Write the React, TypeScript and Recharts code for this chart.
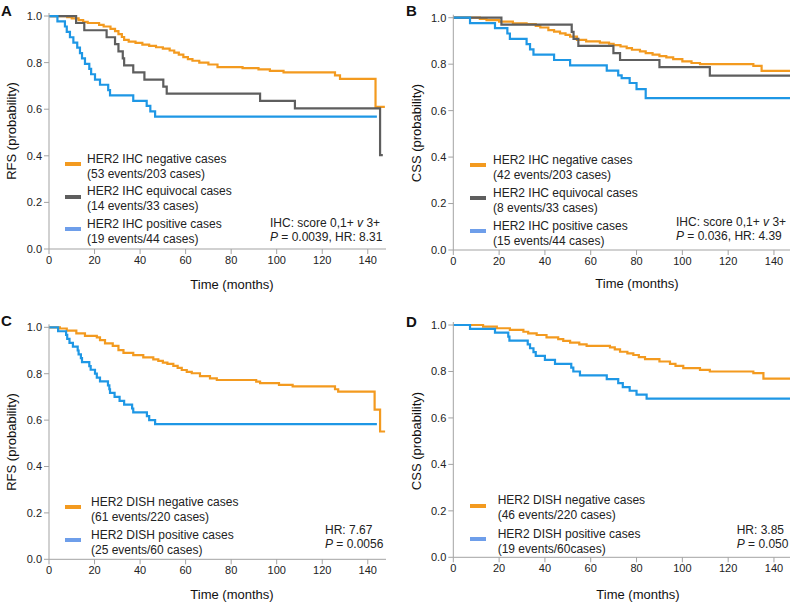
import { LineChart, Line, XAxis, YAxis } from 'recharts';

const xTicks = [0, 20, 40, 60, 80, 100, 120, 140];
const yTicks = [0, 0.2, 0.4, 0.6, 0.8, 1.0];

// Kaplan-Meier steps: [months, probability]
const rfsIhcNeg = [[0, 1], [8, 0.995], [10, 0.99], [13, 0.982], [15, 0.975], [17, 0.97], [22, 0.962], [24, 0.955], [27, 0.945], [29, 0.935], [30.5, 0.922], [32, 0.91], [33, 0.898], [35, 0.89], [38, 0.885], [41, 0.877], [44, 0.872], [47, 0.866], [50, 0.86], [53, 0.852], [55, 0.843], [57, 0.834], [59, 0.824], [61, 0.815], [63, 0.808], [66, 0.8], [70, 0.792], [74, 0.781], [85, 0.776], [92, 0.771], [97, 0.765], [103, 0.758], [125.6, 0.745], [127.8, 0.73], [143.4, 0.61], [147.5, 0.61]];
const rfsIhcEqu = [[0, 1], [11.9, 0.97], [15.5, 0.939], [25.3, 0.909], [29, 0.879], [30.5, 0.848], [32.4, 0.818], [33, 0.788], [37, 0.758], [41.9, 0.727], [50.2, 0.697], [51.7, 0.667], [92.7, 0.636], [108, 0.604], [145.4, 0.403], [146.6, 0.403]];
const rfsIhcPos = [[0, 1], [3.7, 0.977], [7, 0.955], [7.8, 0.932], [9.2, 0.909], [10.7, 0.886], [12.4, 0.864], [13.6, 0.841], [14.5, 0.818], [15.8, 0.795], [17.7, 0.773], [18.5, 0.75], [20.2, 0.727], [22.4, 0.705], [26, 0.682], [26.8, 0.659], [37, 0.636], [42.9, 0.614], [44.5, 0.591], [46.6, 0.568], [144, 0.568]];

const cssIhcNeg = [[0, 1], [11.6, 0.995], [14.5, 0.99], [20, 0.983], [26, 0.976], [32, 0.972], [36, 0.965], [38, 0.958], [41.5, 0.947], [44, 0.94], [46.6, 0.933], [49, 0.926], [51, 0.919], [54, 0.905], [58, 0.898], [64, 0.893], [68, 0.888], [70, 0.882], [73, 0.876], [75.7, 0.869], [78, 0.862], [81.5, 0.855], [84, 0.848], [87, 0.841], [90, 0.835], [93, 0.829], [96, 0.822], [100, 0.812], [104, 0.805], [107.7, 0.8], [131, 0.793], [134.6, 0.771], [147, 0.771]];
const cssIhcEqu = [[0, 1], [21, 0.97], [51.7, 0.939], [52.5, 0.909], [54.6, 0.879], [69.9, 0.848], [72.8, 0.818], [90, 0.787], [112, 0.751], [147, 0.751]];
const cssIhcPos = [[0, 1], [7.3, 0.977], [18.2, 0.955], [23.6, 0.932], [24.7, 0.909], [32, 0.886], [33.5, 0.864], [35, 0.841], [44, 0.818], [51, 0.795], [67, 0.772], [72, 0.752], [73.5, 0.74], [77, 0.719], [80, 0.693], [84, 0.654], [147, 0.654]];

const rfsDishNeg = [[0, 1], [4.8, 0.995], [7.8, 0.986], [12, 0.974], [15.8, 0.963], [21, 0.957], [22.4, 0.945], [24.6, 0.931], [28, 0.92], [30.5, 0.902], [32.7, 0.89], [37, 0.88], [41.4, 0.87], [45.8, 0.862], [48, 0.855], [50, 0.848], [52, 0.842], [54.6, 0.834], [56.5, 0.825], [58.3, 0.816], [60.5, 0.808], [62.7, 0.802], [66.3, 0.79], [70.7, 0.78], [73.7, 0.773], [91, 0.766], [92.7, 0.759], [101, 0.752], [107, 0.745], [125.6, 0.733], [127, 0.723], [143, 0.645], [145.4, 0.551], [147.6, 0.551]];
const rfsDishPos = [[0, 1], [4, 0.983], [7.5, 0.967], [8, 0.95], [9, 0.933], [10.5, 0.917], [12.6, 0.9], [13, 0.883], [14, 0.867], [14.5, 0.85], [17.7, 0.833], [18.3, 0.817], [20.2, 0.8], [21, 0.783], [22.4, 0.767], [25.9, 0.75], [26.5, 0.733], [26.8, 0.717], [28.8, 0.7], [31, 0.683], [33, 0.667], [36.5, 0.65], [37, 0.633], [43, 0.617], [44, 0.6], [46.6, 0.583], [144, 0.583]];

const cssDishNeg = [[0, 1], [13, 0.993], [19, 0.986], [24.7, 0.979], [30.6, 0.971], [32.7, 0.964], [36.4, 0.957], [40.7, 0.947], [45.8, 0.939], [48, 0.932], [51, 0.924], [55, 0.917], [58.2, 0.91], [68.4, 0.904], [70.5, 0.895], [72.8, 0.885], [76, 0.878], [78.6, 0.871], [81, 0.862], [83.7, 0.853], [90, 0.843], [94.6, 0.833], [97, 0.824], [100.4, 0.814], [107.7, 0.807], [112, 0.8], [131, 0.793], [135.4, 0.769], [147, 0.769]];
const cssDishPos = [[0, 1], [7.3, 0.983], [18.2, 0.967], [24, 0.95], [24.5, 0.933], [32.5, 0.917], [33.5, 0.9], [35, 0.883], [36, 0.867], [40, 0.85], [44.4, 0.833], [51.5, 0.817], [52.4, 0.8], [55.3, 0.783], [67, 0.767], [72, 0.75], [74, 0.733], [77, 0.717], [80, 0.7], [84.4, 0.683], [147, 0.683]];

const ORANGE = '#F39A1F';
const GRAY = '#5E5E5E';
const BLUE = '#1E97E5';
const BLUE_KEY = '#6E9EEA';
const AXIS = '#A3A3A3';
const FONT = 'Arial, "Liberation Sans", Helvetica, sans-serif';

type Series = { name: string; sub: string; pts: number[][]; color: string; key: string };

const toRows = (pts: number[][]) => pts.map(([t, s]) => ({ t, s }));

function Panel(props: any) {
  const { left, top, w, h, margin, xMax, letter, letterPos, yLabel, yLabelPos, xLabelPos, series, legend, note, drawOrder } = props;
  const ordered: Series[] = drawOrder.map((i: number) => series[i]);
  return (
    <div style={{ position: 'absolute', left, top, width: w, height: h }}>
      <LineChart width={w} height={h} margin={margin}>
        <XAxis
          dataKey="t"
          type="number"
          domain={[0, xMax]}
          ticks={xTicks}
          interval={0}
          allowDataOverflow
          stroke={AXIS}
          tickSize={5}
          tickMargin={2}
          tick={{ fontSize: 11, fill: '#222' }}
        />
        <YAxis
          type="number"
          domain={[0, 1.013]}
          ticks={yTicks}
          interval={0}
          width={40}
          stroke={AXIS}
          tickSize={5}
          tickMargin={2}
          tick={{ fontSize: 11, fill: '#222' }}
          tickFormatter={(v: number) => v.toFixed(1)}
        />
        {ordered.map((s) => (
          <Line
            key={s.name}
            data={toRows(s.pts)}
            dataKey="s"
            type="stepAfter"
            stroke={s.color}
            strokeWidth={2.2}
            dot={false}
            activeDot={false}
            isAnimationActive={false}
          />
        ))}
      </LineChart>

      <div style={{ position: 'absolute', left: letterPos[0], top: letterPos[1], fontSize: 15, fontWeight: 'bold', lineHeight: '15px' }}>
        {letter}
      </div>
      <div
        style={{
          position: 'absolute',
          left: yLabelPos[0],
          top: yLabelPos[1],
          fontSize: 13,
          whiteSpace: 'nowrap',
          transform: 'translate(-50%, -50%) rotate(-90deg)',
        }}
      >
        {yLabel}
      </div>
      <div style={{ position: 'absolute', left: xLabelPos[0], top: xLabelPos[1], fontSize: 13, whiteSpace: 'nowrap', transform: 'translate(-50%, -50%)' }}>
        Time (months)
      </div>

      {series.map((s: Series, i: number) => (
        <div key={s.name}>
          <div
            style={{
              position: 'absolute',
              left: legend.swatchX,
              top: legend.y + i * legend.step + 3,
              width: 16,
              height: 4,
              background: s.key,
            }}
          />
          <div style={{ position: 'absolute', left: legend.textX, top: legend.y + i * legend.step - 7.5, fontSize: 12, lineHeight: '15px', whiteSpace: 'nowrap', color: '#222' }}>
            {s.name}
            <br />
            {s.sub}
          </div>
        </div>
      ))}

      <div style={{ position: 'absolute', left: note.x, top: note.y - 7.5, fontSize: 12, lineHeight: '14.5px', whiteSpace: 'nowrap', color: '#222' }}>
        {note.lines[0]}
        <br />
        {note.lines[1]}
      </div>
    </div>
  );
}

const ihcRfs: Series[] = [
  { name: 'HER2 IHC negative cases', sub: '(53 events/203 cases)', pts: rfsIhcNeg, color: ORANGE, key: ORANGE },
  { name: 'HER2 IHC equivocal cases', sub: '(14 events/33 cases)', pts: rfsIhcEqu, color: GRAY, key: GRAY },
  { name: 'HER2 IHC positive cases', sub: '(19 events/44 cases)', pts: rfsIhcPos, color: BLUE, key: BLUE_KEY },
];
const ihcCss: Series[] = [
  { name: 'HER2 IHC negative cases', sub: '(42 events/203 cases)', pts: cssIhcNeg, color: ORANGE, key: ORANGE },
  { name: 'HER2 IHC equivocal cases', sub: '(8 events/33 cases)', pts: cssIhcEqu, color: GRAY, key: GRAY },
  { name: 'HER2 IHC positive cases', sub: '(15 events/44 cases)', pts: cssIhcPos, color: BLUE, key: BLUE_KEY },
];
const dishRfs: Series[] = [
  { name: 'HER2 DISH negative cases', sub: '(61 events/220 cases)', pts: rfsDishNeg, color: ORANGE, key: ORANGE },
  { name: 'HER2 DISH positive cases', sub: '(25 events/60 cases)', pts: rfsDishPos, color: BLUE, key: BLUE_KEY },
];
const dishCss: Series[] = [
  { name: 'HER2 DISH negative cases', sub: '(46 events/220 cases)', pts: cssDishNeg, color: ORANGE, key: ORANGE },
  { name: 'HER2 DISH positive cases', sub: '(19 events/60cases)', pts: cssDishPos, color: BLUE, key: BLUE_KEY },
];

export default function App() {
  return (
    <div style={{ position: 'absolute', left: 0, top: 0, width: 793, height: 603, background: '#fff', fontFamily: FONT, color: '#111' }}>
      <Panel
        left={0} top={0} w={396} h={300}
        margin={{ top: 13, right: 10, bottom: 21, left: 9 }}
        xMax={148}
        letter="A" letterPos={[1, 3]}
        yLabel="RFS (probability)" yLabelPos={[11, 131]}
        xLabelPos={[232, 284]}
        series={ihcRfs} drawOrder={[0, 1, 2]}
        legend={{ swatchX: 65, textX: 87, y: 159, step: 32.5 }}
        note={{ x: 270, y: 223, lines: [<>IHC: score 0,1+ <i>v</i> 3+</>, <><i>P</i> = 0.0039, HR: 8.31</>] }}
      />
      <Panel
        left={400} top={0} w={393} h={300}
        margin={{ top: 14.7, right: 3, bottom: 20, left: 13.3 }}
        xMax={147}
        letter="B" letterPos={[6, 3]}
        yLabel="CSS (probability)" yLabelPos={[16, 133]}
        xLabelPos={[237, 283]}
        series={ihcCss} drawOrder={[0, 1, 2]}
        legend={{ swatchX: 70, textX: 93, y: 160, step: 33 }}
        note={{ x: 276, y: 222, lines: [<>IHC: score 0,1+ <i>v</i> 3+</>, <><i>P</i> = 0.036, HR: 4.39</>] }}
      />
      <Panel
        left={0} top={300} w={396} h={303}
        margin={{ top: 24.3, right: 10, bottom: 13.7, left: 9 }}
        xMax={148}
        letter="C" letterPos={[1, 13]}
        yLabel="RFS (probability)" yLabelPos={[11, 142]}
        xLabelPos={[232, 294]}
        series={dishRfs} drawOrder={[0, 1]}
        legend={{ swatchX: 65, textX: 91, y: 202.3, step: 32.7 }}
        note={{ x: 325, y: 230, lines: [<>HR: 7.67</>, <><i>P</i> = 0.0056</>] }}
      />
      <Panel
        left={400} top={300} w={393} h={303}
        margin={{ top: 22, right: 3, bottom: 15.7, left: 13.3 }}
        xMax={147}
        letter="D" letterPos={[6, 14]}
        yLabel="CSS (probability)" yLabelPos={[16, 141]}
        xLabelPos={[238, 294]}
        series={dishCss} drawOrder={[0, 1]}
        legend={{ swatchX: 70, textX: 97.7, y: 200.7, step: 33.3 }}
        note={{ x: 336.7, y: 230, lines: [<>HR: 3.85</>, <><i>P</i> = 0.050</>] }}
      />
    </div>
  );
}
